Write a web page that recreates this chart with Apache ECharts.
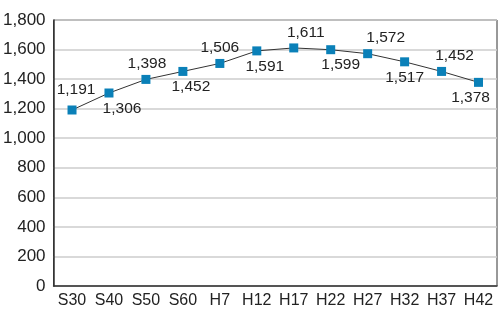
<!DOCTYPE html>
<html>
<head>
<meta charset="utf-8">
<script src="https://cdn.jsdelivr.net/npm/echarts@6/dist/echarts.min.js"></script>
<style>
html, body { margin: 0; padding: 0; background: #fff; }
#chart { width: 498px; height: 309px; }
</style>
</head>
<body>
<div id="chart"></div>
<script>
// categories and values
var categories = ['S30', 'S40', 'S50', 'S60', 'H7', 'H12', 'H17', 'H22', 'H27', 'H32', 'H37', 'H42'];
var values = [1191, 1306, 1398, 1452, 1506, 1591, 1611, 1599, 1572, 1517, 1452, 1378];
var yTicks = [0, 200, 400, 600, 800, 1000, 1200, 1400, 1600, 1800];

// label placement (layout only): above or below, and horizontal nudge in px
var labelAbove = [true, false, true, false, true, false, true, false, true, false, true, false];
var labelDx = [4, 13, 1, 8, 0, 8, 12, 10, 18, 0, 13, -8];

var dom = document.getElementById('chart');
var myChart = echarts.init(dom);

function fmt(v) {
    return String(v).replace(/\B(?=(\d{3})+(?!\d))/g, ',');
}

var seriesData = values.map(function (v, i) {
    var up = labelAbove[i];
    return {
        value: v,
        label: {
            position: up ? 'top' : 'bottom',
            distance: (i === 0) ? 8 : 3,
            offset: [labelDx[i], 0]
        }
    };
});

var option = {
    animation: false,
    grid: {
        left: 52,
        right: 1,
        top: 20,
        bottom: 23,
        show: true,
        borderColor: '#333',
        borderWidth: 1
    },
    xAxis: {
        type: 'category',
        data: categories,
        axisLine: { lineStyle: { color: '#333', width: 1.5 } },
        axisTick: { inside: true, length: 6, interval: 0, lineStyle: { color: '#aaa' } },
        axisLabel: {
            interval: 0,
            color: '#222',
            fontSize: 16,
            fontFamily: 'Liberation Sans',
            margin: 7
        }
    },
    yAxis: {
        type: 'value',
        min: yTicks[0],
        max: yTicks[yTicks.length - 1],
        interval: 200,
        axisLine: { show: true, lineStyle: { color: '#333', width: 1.5 } },
        axisTick: { show: false },
        splitLine: { lineStyle: { color: '#ccc', width: 1.5 } },
        axisLabel: {
            color: '#222',
            fontSize: 17,
            fontFamily: 'Liberation Sans',
            margin: 8,
            formatter: function (v) { return fmt(v); }
        }
    },
    series: [{
        type: 'line',
        data: seriesData,
        symbol: 'rect',
        symbolSize: 9,
        lineStyle: { color: '#333', width: 1 },
        itemStyle: { color: '#0a80b8' },
        label: {
            show: true,
            color: '#222',
            fontSize: 15.5,
            fontFamily: 'Liberation Sans',
            formatter: function (p) { return fmt(p.value); }
        }
    }]
};

myChart.setOption(option, true);
</script>
</body>
</html>
